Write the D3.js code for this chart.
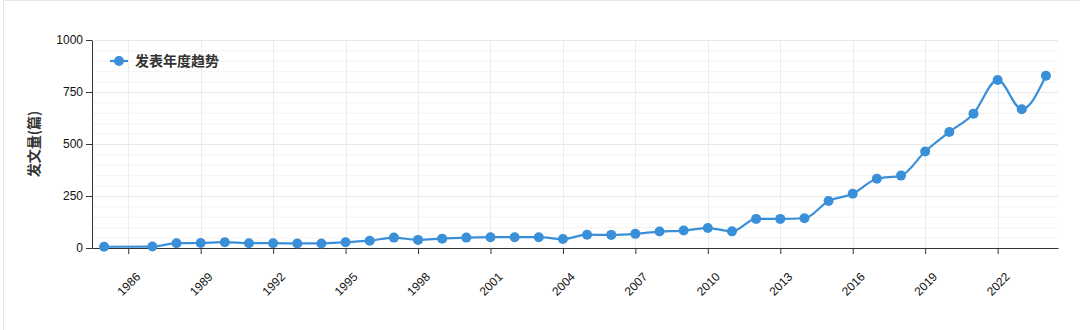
<!DOCTYPE html>
<html>
<head>
<meta charset="utf-8">
<script src="https://cdn.jsdelivr.net/npm/d3@7"></script>
<style>
  body { margin: 0; background: #fff; }
  svg { display: block; font-family: "Open Sans", "Noto Sans CJK SC", sans-serif; }
</style>
</head>
<body>
<div id="chart"></div>
<script>
const years = [1985, 1987, 1988, 1989, 1990, 1991, 1992, 1993, 1994, 1995,
  1996, 1997, 1998, 1999, 2000, 2001, 2002, 2003, 2004, 2005,
  2006, 2007, 2008, 2009, 2010, 2011, 2012, 2013, 2014, 2015,
  2016, 2017, 2018, 2019, 2020, 2021, 2022, 2023, 2024];
const counts = [6, 7, 23, 24, 28, 23, 23, 22, 22, 28,
  35, 50, 39, 45, 50, 52, 52, 52, 43, 64,
  63, 68, 79, 84, 96, 80, 140, 140, 143, 226,
  261, 333, 348, 464, 558, 646, 808, 667, 828];
const xTicks = [1986, 1989, 1992, 1995, 1998, 2001, 2004, 2007, 2010, 2013, 2016, 2019, 2022];
const yTicks = [0, 250, 500, 750, 1000];
const seriesName = '发表年度趋势';
const yTitle = '发文量（篇）'.replace('（', '(').replace('）', ')');

const width = 1080;
const height = 330;
const margin = { left: 92, right: 22, top: 40, bottom: 82 };
const color = '#3a8fd9';

const svg = d3.select('#chart')
  .append('svg')
  .attr('width', width)
  .attr('height', height);

// faint frame
svg.append('path')
  .attr('d', `M3.5,${height} V0.5 H${width}`)
  .attr('fill', 'none')
  .attr('stroke', '#e6e6e6');

const x = d3.scaleLinear()
  .domain([1984.5, 2024.5])
  .range([margin.left, width - margin.right]);

const y = d3.scaleLinear()
  .domain([0, 1000])
  .range([height - margin.bottom, margin.top]);

const data = years.map((yr, i) => ({ year: yr, value: counts[i] }));

// minor horizontal grid
svg.append('g')
  .selectAll('line')
  .data(d3.range(50, 1001, 50).filter((v) => v % 250 !== 0))
  .enter().append('line')
  .attr('x1', x.range()[0])
  .attr('x2', x.range()[1])
  .attr('y1', (d) => y(d) + 0.5)
  .attr('y2', (d) => y(d) + 0.5)
  .attr('stroke', '#f3f3f3');

// major horizontal grid
svg.append('g')
  .selectAll('line')
  .data(yTicks.slice(1))
  .enter().append('line')
  .attr('x1', x.range()[0])
  .attr('x2', x.range()[1])
  .attr('y1', (d) => y(d) + 0.5)
  .attr('y2', (d) => y(d) + 0.5)
  .attr('stroke', '#e9e9e9');

// vertical grid
svg.append('g')
  .selectAll('line')
  .data(xTicks)
  .enter().append('line')
  .attr('x1', (d) => Math.round(x(d)) + 0.5)
  .attr('x2', (d) => Math.round(x(d)) + 0.5)
  .attr('y1', y(0))
  .attr('y2', y(1000))
  .attr('stroke', '#ececec');

// axes
const xAxis = svg.append('g')
  .attr('transform', `translate(0, ${y(0)})`)
  .call(d3.axisBottom(x).tickValues(xTicks).tickFormat(d3.format('d')).tickSizeOuter(0));

xAxis.selectAll('text')
  .attr('y', 0)
  .attr('dy', '0.35em')
  .attr('text-anchor', 'middle')
  .attr('transform', 'translate(0, 36) rotate(-45)');

svg.append('g')
  .attr('transform', `translate(${margin.left}, 0)`)
  .call(d3.axisLeft(y).tickValues(yTicks).tickFormat(d3.format('d')).tickSizeOuter(0));

svg.selectAll('.domain').attr('stroke', '#333');
svg.selectAll('.tick line').attr('stroke', '#333');
svg.selectAll('.tick text')
  .attr('fill', '#111')
  .style('font-size', '12px');

svg.append('text')
  .attr('transform', `translate(34, ${(y(0) + y(1000)) / 2}) rotate(-90)`)
  .attr('text-anchor', 'middle')
  .attr('dy', '0.35em')
  .attr('fill', '#333')
  .style('font-family', '"Noto Sans CJK SC", sans-serif')
  .style('font-weight', 'bold')
  .style('font-size', '14px')
  .text(yTitle);

// line
const line = d3.line()
  .x((d) => x(d.year))
  .y((d) => y(d.value))
  .curve(d3.curveMonotoneX);

svg.append('path')
  .datum(data)
  .attr('fill', 'none')
  .attr('stroke', color)
  .attr('stroke-width', 2.2)
  .attr('d', line);

svg.append('g')
  .selectAll('circle')
  .data(data)
  .enter().append('circle')
  .attr('cx', (d) => x(d.year))
  .attr('cy', (d) => y(d.value))
  .attr('r', 5)
  .attr('fill', color);

// legend
const legend = svg.append('g')
  .attr('transform', 'translate(110, 61)');

legend.append('line')
  .attr('x1', 0)
  .attr('x2', 18)
  .attr('stroke', color)
  .attr('stroke-width', 2.2);

legend.append('circle')
  .attr('cx', 9)
  .attr('r', 5)
  .attr('fill', color);

legend.append('text')
  .attr('x', 25)
  .attr('dy', '0.35em')
  .attr('fill', '#333')
  .style('font-family', '"Noto Sans CJK SC", sans-serif')
  .style('font-weight', 'bold')
  .style('font-size', '14px')
  .text(seriesName);
</script>
</body>
</html>
